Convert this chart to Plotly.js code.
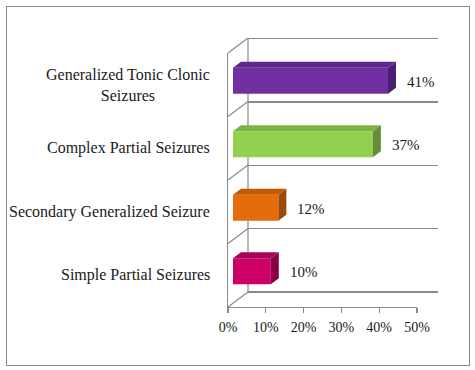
<!DOCTYPE html>
<html>
<head>
<meta charset="utf-8">
<script src="https://cdn.plot.ly/plotly-3.0.1.min.js"></script>
<style>
html,body{margin:0;padding:0;background:#fff;}
#wrap{position:relative;width:475px;height:370px;}
#chart{width:475px;height:370px;}
#frame{position:absolute;left:6px;top:6px;width:462px;height:358px;border:1px solid #8a8a8a;pointer-events:none;}
</style>
</head>
<body>
<div id="wrap"><div id="chart"></div><div id="frame"></div></div>
<script>
// ---- data ----
const categories = ["Simple Partial Seizures", "Secondary Generalized Seizure", "Complex Partial Seizures", "Generalized Tonic Clonic<br>Seizures"];
const values = [10, 12, 37, 41];
const valueLabels = ["10%", "12%", "37%", "41%"];
const frontColors = ["#CC0066", "#E46C0A", "#92D050", "#7030A0"];
const topColors = ["#A80055", "#C25A08", "#7CB443", "#5E2790"];
const sideColors = ["#8A0046", "#9C4A07", "#648F36", "#4A1E70"];
const xTickVals = [0, 10, 20, 30, 40, 50];
const xTickText = ["0%", "10%", "20%", "30%", "40%", "50%"];

// ---- geometry (pixels) ----
const W = 475, H = 370;
const M = {l: 228, r: 37, t: 37, b: 63};
const PW = W - M.l - M.r, PH = H - M.t - M.b;
const depthX = 20, depthY = 15;     // front plane -> back wall offset
const barShiftX = 5, barShiftY = 4; // front plane -> bar front offset
const frontW = 189;                 // 0%..50% width on front plane
const frontH = 254;                 // category band height on front plane
const faceDX = 8, faceDY = 6;       // 3D face depth of bars
const barWidth = 0.41;
const xMax = 50;
const nCat = categories.length;

const pxX = v => v / PW, pxY = v => v / PH;
const idx = categories.map((c, i) => i);
const boundaries = [];
for (let k = 0; k <= nCat; k++) boundaries.push(k - 0.5);

const unitX = frontW / xMax;
const unitY = frontH / nCat;
const dxU = faceDX / unitX, dyU = faceDY / unitY;
const eps = 0.025; // pad back-wall range so edge gridlines are drawn
const epsPx = eps * unitY;

// front plane domains (x3/y3)
const fx = [0, pxX(frontW)];
const fy = [0, pxY(frontH)];
// bar domains (x2/y2)
const bx = [pxX(barShiftX), pxX(barShiftX + frontW)];
const by = [pxY(barShiftY), pxY(barShiftY + frontH)];
// back wall domains (x/y)
const wx = [pxX(depthX), Math.min(1, pxX(depthX + frontW + 1))];
const wy = [pxY(depthY - epsPx), Math.min(1, pxY(depthY + frontH + epsPx))];
const wyCore = [pxY(depthY), pxY(depthY + frontH)];

const serif = "'Liberation Serif', 'Times New Roman', Times, serif";
const gray = "#8a8a8a";
const textColor = "#1a1a1a";

const traces = [
  { // invisible trace to anchor the back-wall subplot
    type: "scatter", mode: "markers", x: [0], y: [0],
    xaxis: "x", yaxis: "y", marker: {opacity: 0}, hoverinfo: "skip"
  },
  {
    type: "bar", orientation: "h",
    x: values, y: idx,
    xaxis: "x2", yaxis: "y2",
    width: barWidth,
    marker: {color: frontColors, line: {width: 0}},
    hoverinfo: "skip"
  }
];

const shapes = [];
values.forEach((v, i) => {
  const y0 = i - barWidth / 2, y1 = i + barWidth / 2;
  shapes.push({
    type: "path", xref: "x2", yref: "y2", layer: "above",
    path: `M 0,${y1} L ${v},${y1} L ${v + dxU},${y1 + dyU} L ${dxU},${y1 + dyU} Z`,
    fillcolor: topColors[i], line: {width: 0}
  });
  shapes.push({
    type: "path", xref: "x2", yref: "y2", layer: "above",
    path: `M ${v},${y0} L ${v},${y1} L ${v + dxU},${y1 + dyU} L ${v + dxU},${y0 + dyU} Z`,
    fillcolor: sideColors[i], line: {width: 0}
  });
});
for (let k = 0; k <= nCat; k++) {
  const yFront = fy[0] + (fy[1] - fy[0]) * k / nCat;
  const yBack = wyCore[0] + (wyCore[1] - wyCore[0]) * k / nCat;
  shapes.push({
    type: "line", xref: "paper", yref: "paper", layer: "below",
    x0: fx[0], y0: yFront, x1: wx[0], y1: yBack,
    line: {color: gray, width: 1.2}
  });
}

const annotations = [];
categories.forEach((c, i) => {
  annotations.push({
    xref: "paper", yref: "y3", x: pxX(-16), y: i,
    xanchor: "right", yanchor: "middle", align: "center",
    text: c, showarrow: false,
    font: {family: serif, size: 16, color: textColor}
  });
});
values.forEach((v, i) => {
  annotations.push({
    xref: "x2", yref: "y2", x: v, y: i,
    xanchor: "left", yanchor: "middle", xshift: 17, yshift: -1,
    text: valueLabels[i], showarrow: false,
    font: {family: serif, size: 15, color: textColor}
  });
});

const layout = {
  width: W, height: H,
  margin: M,
  paper_bgcolor: "#ffffff",
  plot_bgcolor: "rgba(0,0,0,0)",
  showlegend: false,
  font: {family: serif, color: textColor},
  // back wall
  xaxis: {domain: wx, range: [0, xMax], anchor: "y",
    showticklabels: false, ticks: "", showgrid: false, zeroline: false, showline: false},
  yaxis: {
    domain: wy, range: [-0.5 - eps, nCat - 0.5 + eps], anchor: "x",
    tickmode: "array", tickvals: boundaries, showticklabels: false, ticks: "",
    showgrid: true, gridcolor: gray, gridwidth: 1.2,
    showline: false, zeroline: false
  },
  // bars
  xaxis2: {domain: bx, range: [0, xMax], visible: false, anchor: "y2"},
  yaxis2: {domain: by, range: [-0.5, nCat - 0.5], visible: false, anchor: "x2"},
  // front plane
  xaxis3: {
    domain: fx, range: [0, xMax], anchor: "y3",
    tickvals: xTickVals, ticktext: xTickText,
    ticks: "outside", ticklen: 5, tickcolor: gray, tickwidth: 1.2,
    showline: true, linecolor: gray, linewidth: 1.2,
    showgrid: false, zeroline: false, ticklabelstandoff: 2,
    tickfont: {family: serif, size: 14, color: textColor}
  },
  yaxis3: {
    domain: fy, range: [-0.5, nCat - 0.5], anchor: "x3",
    showticklabels: false, ticks: "",
    showline: true, linecolor: gray, linewidth: 1.2,
    showgrid: false, zeroline: false
  },
  shapes: shapes.concat([{
    // back-wall left edge (drawn beneath the bars)
    type: "line", xref: "paper", yref: "paper", layer: "below",
    x0: wx[0], x1: wx[0], y0: wyCore[0], y1: wyCore[1],
    line: {color: gray, width: 1.2}
  }]),
  annotations: annotations
};

Plotly.newPlot("chart", traces, layout, {staticPlot: true, displayModeBar: false});
</script>
</body>
</html>
